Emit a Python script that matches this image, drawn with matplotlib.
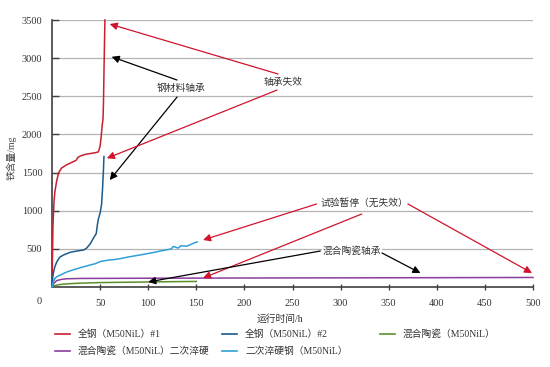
import matplotlib
matplotlib.use("Agg")
import matplotlib.pyplot as plt
from matplotlib.lines import Line2D

# DATA
t_red = [0, 0.5, 1, 2, 3, 5, 7, 10, 15, 20, 25, 27, 30, 35, 40, 45, 48, 49, 50, 51, 52, 53, 53.5, 54, 55]
fe_red = [0, 400, 800, 1100, 1250, 1400, 1500, 1560, 1600, 1630, 1660, 1700, 1720, 1740, 1750, 1760, 1770,
          1800, 1850, 1950, 2100, 2200, 2400, 2800, 3500]

t_blue = [0, 0.5, 1, 2, 3, 5, 8, 12, 19, 25, 33, 36, 40, 43, 46, 47, 48, 50, 51.5, 52.5, 53.5, 54]
fe_blue = [0, 80, 150, 220, 267, 330, 390, 420, 455, 470, 485, 510, 570, 640, 700, 800, 880, 970, 1080,
           1280, 1540, 1710]

t_green = [0, 2, 5, 10, 20, 30, 50, 75, 100, 125, 150]
fe_green = [0, 15, 25, 35, 45, 50, 58, 62, 66, 70, 73]

t_purple = [0, 2, 5, 10, 15, 30, 100, 200, 300, 400, 500]
fe_purple = [0, 50, 85, 100, 108, 112, 115, 118, 120, 122, 125]

t_cyan = [0, 1, 3, 5, 10, 15, 22, 30, 40, 45, 50, 55, 60, 65, 71, 80, 92, 100, 105, 112, 119, 124, 126,
          128, 131, 134, 140, 144, 148, 151]
fe_cyan = [0, 60, 110, 135, 165, 195, 225, 255, 290, 305, 333, 345, 355, 360, 372, 395, 421, 440, 451,
           470, 487, 500, 530, 525, 510, 540, 535, 555, 580, 590]

labels = ['全钢（M50NiL）#1', '全钢（M50NiL）#2', '混合陶瓷（M50NiL）',
          '混合陶瓷（M50NiL）二次淬硬', '二次淬硬钢（M50NiL）']
colors = ['#c8202f', '#1c5a8a', '#5b8f2c', '#8a3d9c', '#2f9fd8']

xticks = [50, 100, 150, 200, 250, 300, 350, 400, 450, 500]
yticks = [500, 1000, 1500, 2000, 2500, 3000, 3500]

fam = ['Liberation Serif', 'Noto Sans CJK SC']
plt.rcParams['font.family'] = fam

fig = plt.figure(figsize=(5.5, 3.67), dpi=100)
ax = fig.add_axes([52 / 550, 1 - 287 / 367, (533 - 52) / 550, (287 - 20) / 367])

series = [(t_red, fe_red), (t_blue, fe_blue), (t_green, fe_green), (t_purple, fe_purple), (t_cyan, fe_cyan)]
draw_order = [3, 2, 4, 1, 0]
for i in draw_order:
    ax.plot(series[i][0], series[i][1], color=colors[i], lw=1.1, zorder=3 + i * 0.1, clip_on=False)

ax.set_xlim(0, 500)
ax.set_ylim(0, 3500)
ax.set_xticks(xticks)
ax.set_yticks(yticks)
ax.tick_params(axis='both', labelsize=7.5, colors='#404040', labelcolor='#333333')
ax.tick_params(axis='x', direction='inout', length=5, width=1, pad=6)
ax.tick_params(axis='y', direction='in', length=5, width=1, pad=7)
ax.yaxis.grid(True, color='#b4b4b4', lw=0.9)
ax.set_axisbelow(True)
for s in ['top', 'right']:
    ax.spines[s].set_visible(False)
for s in ['left', 'bottom']:
    ax.spines[s].set_color('#404040')
    ax.spines[s].set_linewidth(1.2)

fig.text(39 / 550, 1 - 301 / 367, '0', fontsize=7.5, color='#333333', ha='center', va='center')
fig.text(11 / 550, 1 - 158 / 367, '铁含量/mg', fontsize=7, color='#444444', ha='center', va='center',
         rotation=90)
fig.text(280 / 550, 1 - 319 / 367, '运行时间/h', fontsize=7, color='#333333', ha='center', va='center')

# ANNOTATIONS
red_a = '#d0142c'
box = dict(facecolor='white', edgecolor='none', pad=0.5)
ax.text(134, 2608, '钢材料轴承', fontsize=7, color='#333333', ha='center', va='center', bbox=box, zorder=6)
ax.text(240, 2687, '轴承失效', fontsize=7, color='#333333', ha='center', va='center', bbox=box, zorder=6)
ax.text(325, 1101, '试验暂停（无失效）', fontsize=7, color='#333333', ha='center', va='center', bbox=box, zorder=6)
ax.text(312, 472, '混合陶瓷轴承', fontsize=7, color='#333333', ha='center', va='center', bbox=box, zorder=6)

arrows = [
    ((130, 2713), (62, 3018), 'black'),
    ((130, 2490), (60, 1402), 'black'),
    ((235, 2792), (60, 3447), red_a),
    ((234, 2582), (57, 1687), red_a),
    ((275, 1088), (157, 616), red_a),
    ((322, 957), (157, 118), red_a),
    ((370, 1088), (499, 183), red_a),
    ((279, 472), (100, 66), 'black'),
    ((343, 446), (383, 183), 'black'),
]
for tail, tip, c in arrows:
    ax.annotate('', xy=tip, xytext=tail,
                arrowprops=dict(arrowstyle='-|>', color=c, lw=0.9, mutation_scale=11,
                                shrinkA=0, shrinkB=0), zorder=7, annotation_clip=False)

# LEGEND (manual)
leg_pos = [(55, 334), (222, 334), (380, 334), (55, 351), (222, 351)]
for (px, py), lab, c in zip(leg_pos, labels, colors):
    y = 1 - py / 367
    fig.add_artist(Line2D([px / 550, (px + 15) / 550], [y, y], color=c, lw=1.2, transform=fig.transFigure))
    fig.text((px + 23) / 550, y, lab, fontsize=7, color='#333333', ha='left', va='center')

fig.savefig('out.png', dpi=100)
